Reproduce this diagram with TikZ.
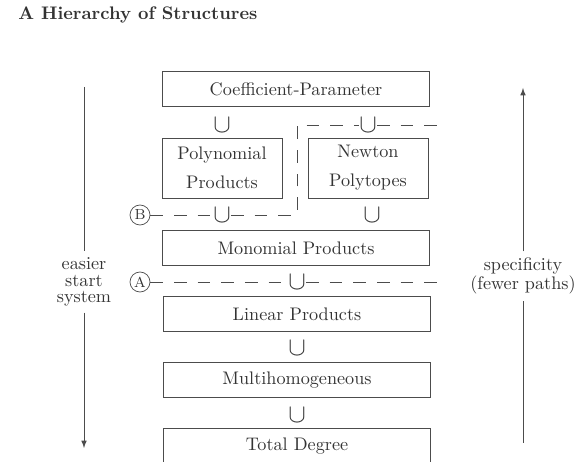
\documentclass[tikz,border=0pt]{standalone}
\usepackage{amsmath}
\usepackage{amssymb}
\usetikzlibrary{positioning,arrows}

\begin{document}
\begin{tikzpicture}[x=0.55pt,y=-0.55pt]
\tikzstyle{every node}+=[text=black!80]
\tikzstyle{level}=[draw=black!70, minimum width=147pt, minimum height=19pt, inner sep=0pt]
\tikzstyle{halflevel}=[draw=black!70, minimum width=66pt, minimum height=33pt, inner sep=0pt, align=center, font=\linespread{1.33}\selectfont]
\tikzstyle{subset}=[inner sep=0pt, font=\Large]
\tikzstyle{cut}=[draw=black!70, dash pattern=on 7pt off 6pt]
\tikzstyle{cutlabel}=[draw=black!70, circle, inner sep=0pt, minimum size=11pt, font=\footnotesize]
\tikzstyle{sidelabel}=[align=center, font=\linespread{0.75}\selectfont]
\useasboundingbox (0,0) rectangle (576,462);
% title
\node[anchor=base west, font=\bfseries] (title) at (12,20) {A Hierarchy of Structures};
% the structures
\node[level] (coef) at (296,89) {Coefficient-Parameter};
\node[halflevel] (poly) at (222,168) {Polynomial\\Products};
\node[halflevel] (newton) at (368,168) {Newton\\Polytopes};
\node[level] (mono) at (296,248) {Monomial Products};
\node[level] (lin) at (297,314) {Linear Products};
\node[level] (multi) at (297,380) {Multihomogeneous};
\node[level] (total) at (297,446) {Total Degree};
% inclusions
\node[subset] (c1) at (222,125) {$\cup$};
\node[subset] (c2) at (368,125) {$\cup$};
\node[subset] (c3) at (222,215) {$\cup$};
\node[subset] (c4) at (372,215) {$\cup$};
\node[subset] (c5) at (297,282) {$\cup$};
\node[subset] (c6) at (297,348) {$\cup$};
\node[subset] (c7) at (297,415) {$\cup$};
% cuts A and B
\node[cutlabel] (B) at (140,215) {B};
\node[cutlabel] (A) at (140,282) {A};
\coordinate (bend) at (297,215);
\coordinate (tbend) at (297,125);
\coordinate (tend) at (440,125);
\coordinate (aend) at (443,282);
\draw[cut] (B) -- (c3) -- (bend) -- (tbend) -- (c2) -- (tend);
\draw[cut] (A) -- (c5) -- (aend);
% side arrows
\node[sidelabel] (easier) at (84,282) {easier\\start\\system};
\coordinate (etop) at (84,87);
\coordinate (ebot) at (84,448);
\draw[black!70] (etop) -- (easier);
\draw[black!70,-latex] (easier) -- (ebot);
\node[sidelabel] (spec) at (523,276) {specificity\\(fewer paths)};
\coordinate (stop) at (523,88);
\coordinate (sbot) at (523,443);
\draw[black!70] (sbot) -- (spec);
\draw[black!70,-latex] (spec) -- (stop);
\end{tikzpicture}
\end{document}
